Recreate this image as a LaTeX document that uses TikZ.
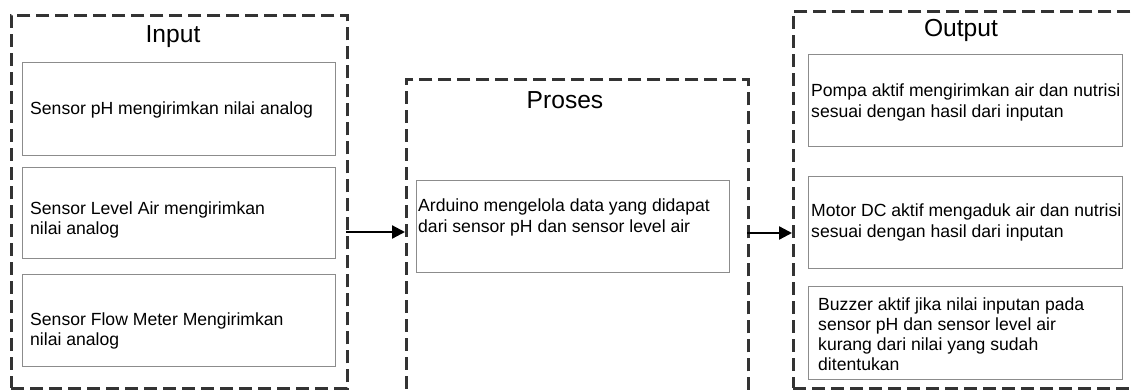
\documentclass[tikz,border=0pt]{standalone}
\usepackage{fontspec}
\setmainfont{Liberation Sans}
\usetikzlibrary{arrows.meta}
\definecolor{grpline}{HTML}{333333}
\tikzset{
  group/.style={draw=grpline, line width=2.6pt, dash pattern=on 13pt off 6pt, anchor=north west, inner sep=0pt},
  inbox/.style={draw=black!45, line width=1pt, anchor=north west, inner sep=0pt},
  title/.style={anchor=base, inner sep=0pt, font=\fontsize{24.6pt}{28pt}\selectfont},
  body/.style={anchor=base west, inner sep=0pt, font=\fontsize{17.6pt}{20.3pt}\selectfont},
  arr/.style={line width=2.3pt, -{Triangle[length=13pt,width=13pt]}}
}
\newcommand{\txt}[1]{\parbox[t]{320pt}{\raggedright #1}}
\begin{document}
\begin{tikzpicture}[x=1pt,y=-1pt]
\useasboundingbox (0,0) rectangle (1135,389);
\clip (0,0) rectangle (1135,389);
% groups
\node[group, minimum width=336pt, minimum height=373pt] (ingrp) at (10,14) {};
\node[group, minimum width=342pt, minimum height=330pt] (prgrp) at (405,78) {};
\node[group, minimum width=360pt, minimum height=377pt] (outgrp) at (792,10) {};
% titles
\node[title] (tin) at (173,42.5) {Input};
\node[title] (tpr) at (565,108.3) {Proses};
\node[title] (tout) at (961,36.7) {Output};
% input boxes
\node[inbox, minimum width=313pt, minimum height=93pt] (in1) at (22,62) {};
\node[inbox, minimum width=313pt, minimum height=91pt] (in2) at (22,167) {};
\node[inbox, minimum width=313pt, minimum height=92pt] (in3) at (22,274) {};
\node[body] (in1t) at (30,114) {\txt{Sensor pH mengirimkan nilai analog}};
\node[body] (in2t) at (30,214.3) {\txt{Sensor Level Air mengirimkan\\nilai analog}};
\node[body] (in3t) at (30,325) {\txt{Sensor Flow Meter Mengirimkan\\nilai analog}};
% process box
\node[inbox, minimum width=313pt, minimum height=92pt] (pr) at (416,180) {};
\node[body] (prt) at (418,211.7) {\txt{Arduino mengelola data yang didapat\\dari sensor pH dan sensor level air}};
% output boxes
\node[inbox, minimum width=314pt, minimum height=92pt] (out1) at (808,54) {};
\node[inbox, minimum width=314pt, minimum height=92pt] (out2) at (808,176) {};
\node[inbox, minimum width=314pt, minimum height=93pt] (out3) at (808,286) {};
\node[body] (out1t) at (811,96.7) {\txt{Pompa aktif mengirimkan air dan nutrisi\\sesuai dengan hasil dari inputan}};
\node[body] (out2t) at (811,216.7) {\txt{Motor DC aktif mengaduk air dan nutrisi\\sesuai dengan hasil dari inputan}};
\node[body] (out3t) at (818,310) {\txt{Buzzer aktif jika nilai inputan pada\\sensor pH dan sensor level air\\kurang dari nilai yang sudah\\ditentukan}};
% arrows
\coordinate (a1) at (346,232);
\coordinate (a2) at (747,233);
\draw[arr] (a1) -- (a1 -| prgrp.west);
\draw[arr] (a2) -- (a2 -| outgrp.west);
\end{tikzpicture}
\end{document}
